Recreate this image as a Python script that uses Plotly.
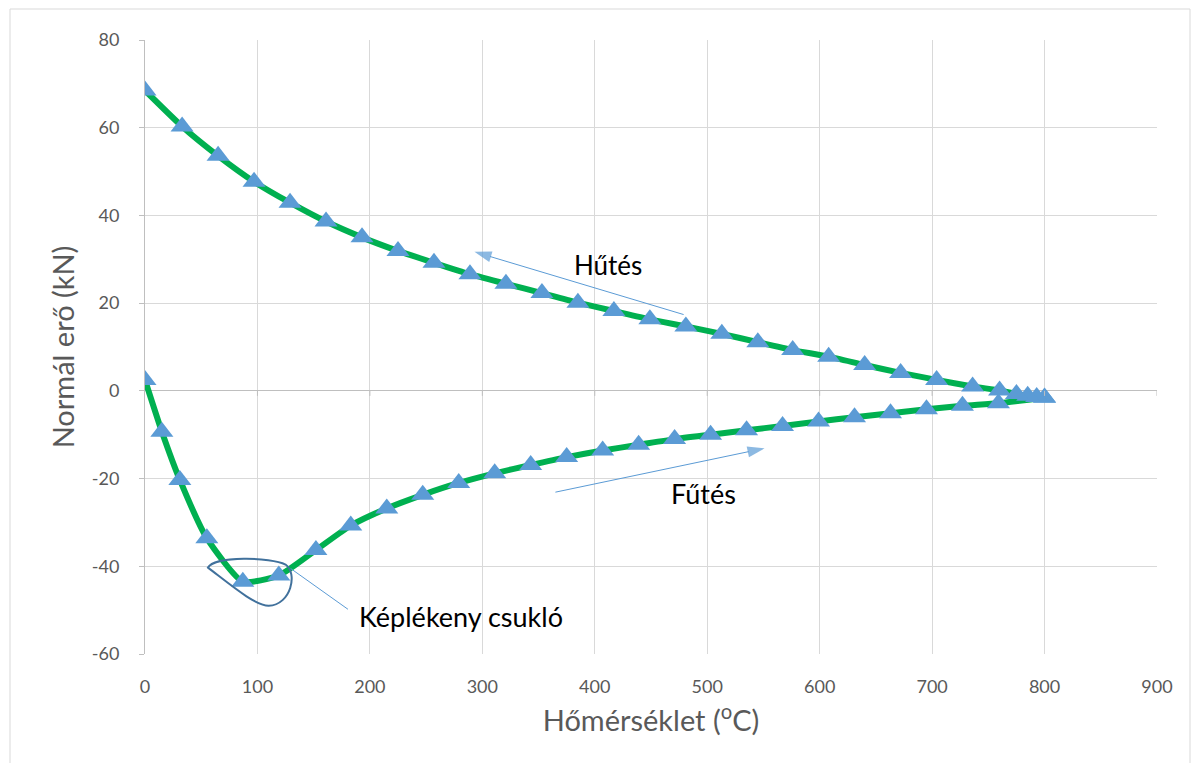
import plotly.graph_objects as go

# Heating branch (Fűtés): temperature (°C) and normal force (kN)
heat_temp = [0, 15, 31, 55, 87, 119, 152, 183, 215, 247, 279, 311, 343, 375, 407,
             439, 471, 503, 535, 567, 599, 631, 663, 695, 727, 759, 800]
heat_force = [2.5, -9.3, -20.3, -33.6, -43.5, -42.1, -36.3, -30.7, -26.8, -23.7, -21.0,
              -18.8, -16.9, -15.1, -13.6, -12.3, -11.0, -10.0, -9.0, -8.0, -7.0, -6.0,
              -5.1, -4.2, -3.4, -2.8, -1.6]

# Cooling branch (Hűtés)
cool_temp = [800, 793, 785, 775, 760, 736, 704, 672, 640, 608, 576, 545, 513, 481, 449,
             417, 385, 353, 321, 289, 257, 225, 193, 161, 129, 97, 65, 33, 0]
cool_force = [-1.5, -1.4, -1.1, -0.7, 0.1, 1.0, 2.5, 4.1, 5.9, 7.8, 9.3, 11.1, 13.0, 14.7,
              16.3, 18.2, 20.1, 22.3, 24.4, 26.6, 29.2, 31.9, 35.0, 38.6, 42.9, 47.7,
              53.6, 60.3, 68.5]

x_ticks = [0, 100, 200, 300, 400, 500, 600, 700, 800, 900]
y_ticks = [-60, -40, -20, 0, 20, 40, 60, 80]

# annotation arrows: (tail, head) in data units
cool_arrow_x = [479, 293]
cool_arrow_y = [17.4, 31.7]
heat_arrow_x = [365, 551]
heat_arrow_y = [-23.1, -13.1]

GREEN = "#00B050"
BLUE = "#5B9BD5"
GREY_TXT = "#595959"
FONT = "Lato"

fig = go.Figure()
for xs, ys in [(heat_temp, heat_force), (cool_temp, cool_force)]:
    fig.add_trace(go.Scatter(
        x=xs, y=ys, mode="lines+markers",
        line=dict(color=GREEN, width=6, shape="spline", smoothing=0.55),
        marker=dict(symbol="triangle-up", size=20, color=BLUE),
        showlegend=False, hoverinfo="x+y"))

for xs, ys in [(cool_arrow_x, cool_arrow_y), (heat_arrow_x, heat_arrow_y)]:
    fig.add_trace(go.Scatter(
        x=xs, y=ys, mode="lines+markers",
        line=dict(color=BLUE, width=1),
        marker=dict(symbol="arrow", size=[0, 18], color=BLUE, angleref="previous",
                    line=dict(width=0)),
        showlegend=False, hoverinfo="skip"))

OFF = 8  # page body margin
W, H = 1200 - 2 * OFF, 771 - 2 * OFF
L, T = 145 - OFF, 40 - OFF
R = W - (1157 - OFF)
B = H - (654 - OFF)
pw, ph = W - L - R, H - T - B

def px_x(p):
    return (p - OFF - L) / pw

def px_y(p):
    return (H - B - (p - OFF)) / ph

shapes = []
# chart border
shapes.append(dict(type="rect", xref="paper", yref="paper",
                   x0=px_x(10), x1=px_x(1190), y0=px_y(800), y1=px_y(9),
                   line=dict(color="#D9D9D9", width=1), fillcolor="rgba(0,0,0,0)", layer="below"))
# small tick marks of the horizontal axis crossing at y = 0
for xv in x_ticks[1:]:
    shapes.append(dict(type="line", xref="x", yref="y", x0=xv, x1=xv, y0=0, y1=-1.15,
                       line=dict(color="#BFBFBF", width=1)))
# plastic hinge loop
shapes.append(dict(type="path", xref="x", yref="y",
                   path="M 56,-40.3 C 62,-37.6 112,-37.9 125,-39.6 "
                        "C 136,-41.5 130,-48.8 110,-49.0 "
                        "C 98,-49.0 76,-44.2 56,-40.3 Z",
                   line=dict(color="#41719C", width=2), fillcolor="rgba(0,0,0,0)"))
# leader line to the label
shapes.append(dict(type="line", xref="x", yref="y", x0=129.5, y0=-40.5, x1=180.5, y1=-49.8,
                   line=dict(color=BLUE, width=1)))

annotations = [
    dict(x=412, y=28.6, xref="x", yref="y", text="Hűtés", showarrow=False,
         font=dict(family=FONT, size=26, color="#000000")),
    dict(x=497, y=-23.3, xref="x", yref="y", text="Fűtés", showarrow=False,
         font=dict(family=FONT, size=27, color="#000000")),
    dict(x=281, y=-51.5, xref="x", yref="y", text="Képlékeny csukló", showarrow=False,
         font=dict(family=FONT, size=27, color="#000000")),
]

fig.update_layout(
    width=W, height=H,
    margin=dict(l=L, r=R, t=T, b=B),
    paper_bgcolor="white", plot_bgcolor="white",
    font=dict(family=FONT, color=GREY_TXT),
    shapes=shapes, annotations=annotations,
    xaxis=dict(range=[0, 900], tickvals=x_ticks, ticktext=[str(v) for v in x_ticks],
               showgrid=True, gridcolor="#D9D9D9", gridwidth=1,
               zeroline=False, showline=False, ticks="",
               ticklabelstandoff=20,
               tickfont=dict(family=FONT, size=18, color=GREY_TXT),
               title=dict(text="Hőmérséklet (<sup>o</sup>C)", standoff=14,
                          font=dict(family=FONT, size=29, color=GREY_TXT))),
    yaxis=dict(range=[-60, 80], tickvals=y_ticks, ticktext=[str(v) for v in y_ticks],
               showgrid=True, gridcolor="#D9D9D9", gridwidth=1,
               zeroline=True, zerolinecolor="#BFBFBF", zerolinewidth=1,
               showline=True, linecolor="#BFBFBF", linewidth=1,
               ticks="outside", ticklen=5, tickcolor="#BFBFBF",
               ticklabelstandoff=16,
               tickfont=dict(family=FONT, size=18, color=GREY_TXT),
               title=dict(text="Normál erő (kN)", standoff=8,
                          font=dict(family=FONT, size=29, color=GREY_TXT))),
)

fig.write_html("out.html")
